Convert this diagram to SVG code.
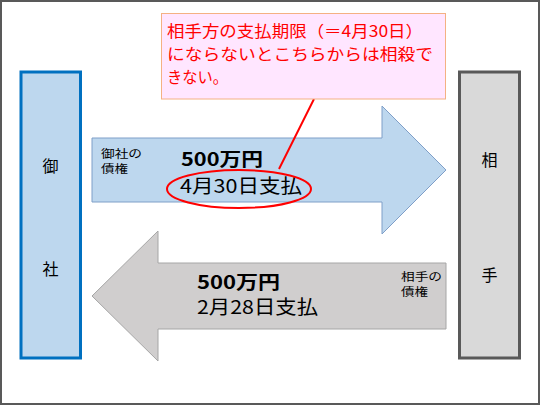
<svg xmlns="http://www.w3.org/2000/svg" width="540" height="405" viewBox="0 0 540 405">
<style>
text{font-family:"Noto Sans CJK JP","Noto Sans",sans-serif;fill:#000}
.big{font-size:19px}
.bold{font-size:18px;font-weight:bold}
.small{font-size:11.5px}
.side{font-size:16px;text-anchor:middle}
.call{font-size:16px;fill:#FF0000}
</style>
<rect x="1" y="1" width="538" height="403" fill="#FFFFFF" stroke="#595959" stroke-width="2"/>
<g id="company">
<rect x="21" y="72" width="59.5" height="286" fill="#BDD7EE" stroke="#0070C0" stroke-width="3"/>
<text class="side" x="50.5" y="172">御</text>
<text class="side" x="50.5" y="275">社</text>
</g>
<g id="partner">
<rect x="459.5" y="72" width="60" height="286" fill="#D9D9D9" stroke="#595959" stroke-width="3"/>
<text class="side" x="489.5" y="166">相</text>
<text class="side" x="489.5" y="281">手</text>
</g>
<g id="our-claim">
<polygon points="92,138 382,138 382,106 446,170 382,234 382,202 92,202" fill="#BDD7EE" stroke="#7F9FC8" stroke-width="1"/>
<text class="small" x="101" y="157.5" textLength="41" lengthAdjust="spacingAndGlyphs">御社の</text>
<text class="small" x="101" y="173" textLength="27" lengthAdjust="spacingAndGlyphs">債権</text>
<text class="bold" x="181" y="165.5" textLength="82" lengthAdjust="spacingAndGlyphs">500万円</text>
<text class="big" x="180" y="193" textLength="122" lengthAdjust="spacingAndGlyphs">4月30日支払</text>
</g>
<g id="their-claim">
<polygon points="92,296 158,231 158,263 446,263 446,329 158,329 158,361" fill="#D0CECE" stroke="#A6A6A6" stroke-width="1"/>
<text class="bold" x="197" y="288.5" textLength="83" lengthAdjust="spacingAndGlyphs">500万円</text>
<text class="big" x="197" y="314" textLength="121" lengthAdjust="spacingAndGlyphs">2月28日支払</text>
<text class="small" x="401" y="280.5" textLength="41" lengthAdjust="spacingAndGlyphs">相手の</text>
<text class="small" x="401" y="296" textLength="27" lengthAdjust="spacingAndGlyphs">債権</text>
</g>
<g id="connectors">
<line x1="314" y1="99" x2="279" y2="169" stroke="#FF0000" stroke-width="2"/>
<ellipse cx="239" cy="189" rx="72" ry="19" fill="none" stroke="#FF0000" stroke-width="2"/>
</g>
<g id="callout">
<rect x="161.5" y="13.5" width="284" height="85.5" fill="#FFE6FF" stroke="#F4B183" stroke-width="1"/>
<text class="call" x="167" y="36.5" textLength="256" lengthAdjust="spacingAndGlyphs">相手方の支払期限（＝4月30日）</text>
<text class="call" x="167" y="59.5" textLength="266" lengthAdjust="spacingAndGlyphs">にならないとこちらからは相殺で</text>
<text class="call" x="167" y="82.5" textLength="61" lengthAdjust="spacingAndGlyphs">きない。</text>
</g>
</svg>
